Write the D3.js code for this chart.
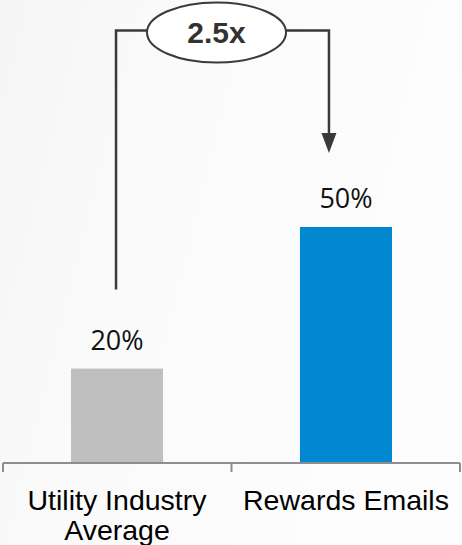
<!DOCTYPE html>
<html>
<head>
<meta charset="utf-8">
<script src="https://cdn.jsdelivr.net/npm/d3@7"></script>
<style>
  html, body { margin: 0; padding: 0; background: #fbfbfb; }
  svg { display: block; }
</style>
</head>
<body>
<div id="chart"></div>
<script>
// Email open-rate comparison
const categories = ["Utility Industry Average", "Rewards Emails"];
const categoryLines = [["Utility Industry", "Average"], ["Rewards Emails"]];
const values = [20, 50];
const valueLabels = ["20%", "50%"];
const barColors = ["#bfbfbf", "#0288d1"];

const width = 462, height = 545;

const svg = d3.select("#chart").append("svg")
  .attr("width", width)
  .attr("height", height);

// soft background wash
const defs = svg.append("defs");
const grad = defs.append("linearGradient")
  .attr("id", "bg").attr("x1", "0").attr("y1", "0").attr("x2", "1").attr("y2", "0.3");
grad.append("stop").attr("offset", "0").attr("stop-color", "#f5f5f5");
grad.append("stop").attr("offset", "0.35").attr("stop-color", "#fafafa");
grad.append("stop").attr("offset", "1").attr("stop-color", "#fdfdfd");
svg.append("rect").attr("width", width).attr("height", height).attr("fill", "url(#bg)");

const axisY = 463;
const x = d3.scaleBand()
  .domain(categories)
  .range([3, 460])
  .paddingInner(0.598)
  .paddingOuter(0.297);

const y = d3.scaleLinear()
  .domain([0, 50])
  .range([axisY, 227]);

// bars
svg.selectAll("rect.bar")
  .data(values)
  .join("rect")
  .attr("class", "bar")
  .attr("x", (d, i) => x(categories[i]))
  .attr("y", d => y(d))
  .attr("width", x.bandwidth())
  .attr("height", d => axisY - y(d))
  .attr("fill", (d, i) => barColors[i]);

// value labels
svg.selectAll("text.val")
  .data(values)
  .join("text")
  .attr("class", "val")
  .attr("x", (d, i) => x(categories[i]) + x.bandwidth() / 2)
  .attr("y", d => y(d) - 19)
  .attr("text-anchor", "middle")
  .attr("font-family", "'Open Sans', sans-serif")
  .attr("font-size", 27)
  .attr("fill", "#111")
  .text((d, i) => valueLabels[i]);

// category axis with ticks on band boundaries
const step = x.step();
const gap = step - x.bandwidth();
const boundaries = [x.range()[0], x(categories[0]) + x.bandwidth() + gap / 2, x.range()[1]];
const axis = svg.append("g").attr("stroke", "#8e8e8e").attr("stroke-width", 2);
axis.append("line")
  .attr("x1", x.range()[0]).attr("x2", x.range()[1])
  .attr("y1", axisY).attr("y2", axisY);
axis.selectAll("line.tick")
  .data(boundaries)
  .join("line")
  .attr("class", "tick")
  .attr("x1", d => d).attr("x2", d => d)
  .attr("y1", axisY).attr("y2", axisY + 9);

// category labels
categories.forEach((c, i) => {
  const t = svg.append("text")
    .attr("x", x(c) + x.bandwidth() / 2)
    .attr("y", 510)
    .attr("text-anchor", "middle")
    .attr("font-family", "'Liberation Sans', Arial, sans-serif")
    .attr("font-size", 28.5)
    .attr("fill", "#000");
  categoryLines[i].forEach((line, j) => {
    t.append("tspan")
      .attr("x", x(c) + x.bandwidth() / 2)
      .attr("dy", j === 0 ? 0 : 30)
      .text(line);
  });
});

// ratio callout between the two bars
const ratio = values[1] / values[0];
const lineColor = "#3a3a3a";
const cx = 216.5, cy = 32.5, rx = 69.5, ry = 30;
const leftX = x(categories[0]) + x.bandwidth() / 2 - 1;
const rightX = x(categories[1]) + 29;
const topY = 30.5;
const arrowTip = 153;

const callout = svg.append("g");
callout.append("path")
  .attr("d", `M${leftX},${y(values[0]) - 79}V${topY}H${cx - rx}`)
  .attr("fill", "none").attr("stroke", lineColor).attr("stroke-width", 2.5);
callout.append("path")
  .attr("d", `M${cx + rx},${topY}H${rightX}V${arrowTip - 18}`)
  .attr("fill", "none").attr("stroke", lineColor).attr("stroke-width", 2.5);
callout.append("path")
  .attr("d", `M${rightX - 7.5},${arrowTip - 20}L${rightX + 7.5},${arrowTip - 20}L${rightX},${arrowTip}Z`)
  .attr("fill", lineColor);
callout.append("ellipse")
  .attr("cx", cx).attr("cy", cy).attr("rx", rx).attr("ry", ry)
  .attr("fill", "#ffffff").attr("stroke", lineColor).attr("stroke-width", 2);
callout.append("text")
  .attr("x", cx).attr("y", 43)
  .attr("text-anchor", "middle")
  .attr("font-family", "'Liberation Sans', Arial, sans-serif")
  .attr("font-weight", "bold")
  .attr("font-size", 30)
  .attr("fill", "#333")
  .text(`${ratio}x`);
</script>
</body>
</html>
